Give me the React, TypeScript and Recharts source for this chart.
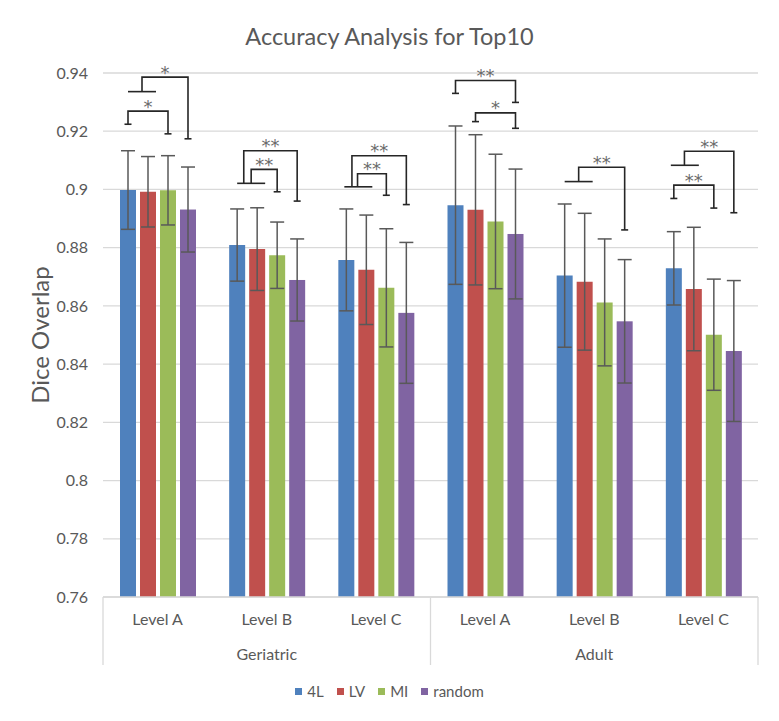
import React from 'react'
import {
  BarChart,
  Bar,
  XAxis,
  YAxis,
  CartesianGrid,
  ErrorBar,
  Legend,
} from 'recharts'

const groupNames = ['Geriatric', 'Adult']
const levelNames = ['Level A', 'Level B', 'Level C']
const seriesNames = ['4L', 'LV', 'MI', 'random']
const seriesColors = ['#4F81BD', '#C0504D', '#9BBB59', '#8064A2']

// mean dice overlap per category (Geriatric A/B/C, Adult A/B/C)
const fourL = [0.8998, 0.8809, 0.8758, 0.8946, 0.8704, 0.8729]
const lv = [0.8992, 0.8795, 0.8724, 0.893, 0.8683, 0.8658]
const mi = [0.8997, 0.8774, 0.8662, 0.889, 0.8612, 0.8501]
const random = [0.8931, 0.8689, 0.8576, 0.8847, 0.8547, 0.8445]

// standard deviation (symmetric error bars)
const err4L = [0.0135, 0.0124, 0.0175, 0.0272, 0.0246, 0.0126]
const errLV = [0.0121, 0.0142, 0.0188, 0.0258, 0.0235, 0.0212]
const errMI = [0.0119, 0.0114, 0.0203, 0.0231, 0.0218, 0.0191]
const errRandom = [0.0146, 0.0141, 0.0242, 0.0223, 0.0212, 0.0242]

const yTicks = [0.76, 0.78, 0.8, 0.82, 0.84, 0.86, 0.88, 0.9, 0.92, 0.94]

// significance brackets; from/to are bar slots inside a category (0 = 4L ... 3 = random)
const brackets = [
  { cat: 0, from: 0.7, to: 3, top: 0.9386, left: 0.9336, right: 0.9174, leftCap: false, label: '*' },
  { cat: 0, from: 0, to: 2, top: 0.9269, left: 0.9224, right: 0.9191, leftCap: true, label: '*' },
  { cat: 1, from: 0.33, to: 3, top: 0.9133, left: 0.9021, right: 0.896, leftCap: false, label: '**' },
  { cat: 1, from: 0.7, to: 2, top: 0.9069, left: 0.9021, right: 0.8992, leftCap: false, label: '**' },
  { cat: 2, from: 0.28, to: 3, top: 0.9116, left: 0.9009, right: 0.8948, leftCap: false, label: '**' },
  { cat: 2, from: 0.56, to: 2, top: 0.9054, left: 0.9009, right: 0.898, leftCap: false, label: '**' },
  { cat: 3, from: 0, to: 3, top: 0.9374, left: 0.933, right: 0.9299, leftCap: true, label: '**' },
  { cat: 3, from: 1, to: 3, top: 0.9263, left: 0.9233, right: 0.921, leftCap: true, label: '*' },
  { cat: 4, from: 0.7, to: 3, top: 0.9076, left: 0.9027, right: 0.8861, leftCap: false, label: '**' },
  { cat: 5, from: 0.53, to: 3, top: 0.9131, left: 0.9083, right: 0.892, leftCap: false, label: '**' },
  { cat: 5, from: 0, to: 2, top: 0.9015, left: 0.8969, right: 0.8936, leftCap: true, label: '**' },
]

// short horizontal bars joining 4L and LV
const crossbars = [
  { cat: 0, from: 0, to: 1.4, level: 0.9336 },
  { cat: 1, from: 0, to: 1.4, level: 0.9021 },
  { cat: 2, from: -0.1, to: 1.3, level: 0.9009 },
  { cat: 4, from: 0, to: 1.4, level: 0.9027 },
  { cat: 5, from: -0.15, to: 1.25, level: 0.9083 },
]

const data = groupNames.flatMap((g, gi) =>
  levelNames.map((lvl, li) => {
    const i = gi * levelNames.length + li
    return {
      name: g + ' ' + lvl,
      group: g,
      level: lvl,
      s4L: fourL[i],
      sLV: lv[i],
      sMI: mi[i],
      sRandom: random[i],
      e4L: err4L[i],
      eLV: errLV[i],
      eMI: errMI[i],
      eRandom: errRandom[i],
    }
  })
)

const W = 779
const H = 721
const MARGIN = { top: 73, right: 21, left: 0, bottom: 20 }
const Y_AXIS_W = 103
const PLOT_W = W - MARGIN.left - MARGIN.right - Y_AXIS_W
const BAR_GAP = 4
const Y_MIN = 0.76
const FONT = 'Lato, "Open Sans", sans-serif'
const TEXT = '#595959'
const LINE = '#d9d9d9'

const CategoryTick = (props: any) => {
  const { x, y, payload, index } = props
  const half = PLOT_W / data.length / 2
  const entry = data[index]
  const perGroup = levelNames.length
  const pos = index % perGroup
  return (
    <g>
      <text x={x} y={y + 28} textAnchor="middle" fill={TEXT} fontSize={16} fontFamily={FONT}>
        {entry ? entry.level : payload.value}
      </text>
      {pos === 1 && (
        <text x={x} y={y + 63} textAnchor="middle" fill={TEXT} fontSize={16} fontFamily={FONT}>
          {entry.group}
        </text>
      )}
      {pos === 0 && <line x1={x - half} x2={x - half} y1={y} y2={y + 68} stroke={LINE} strokeWidth={1.3} />}
      {index === data.length - 1 && (
        <line x1={x + half} x2={x + half} y1={y} y2={y + 68} stroke={LINE} strokeWidth={1.3} />
      )}
    </g>
  )
}

// last bar of each category also carries the significance annotations
const RandomBar = (props: any) => {
  const { x, y, width, height, fill, index, payload } = props
  const base = y + height
  const ppu = height / (payload.sRandom - Y_MIN)
  const yOf = (v: number) => base - (v - Y_MIN) * ppu
  const xOf = (s: number) => x + width / 2 - (3 - s) * (width + BAR_GAP)
  const stroke = '#262626'
  const cap = 3.5
  return (
    <g>
      <rect x={x} y={y} width={width} height={height} fill={fill} />
      {crossbars
        .filter((c) => c.cat === index)
        .map((c, k) => (
          <line key={'c' + k} x1={xOf(c.from)} x2={xOf(c.to)} y1={yOf(c.level)} y2={yOf(c.level)} stroke={stroke} strokeWidth={1.6} />
        ))}
      {brackets
        .filter((b) => b.cat === index)
        .map((b, k) => {
          const x1 = xOf(b.from)
          const x2 = xOf(b.to)
          const yt = yOf(b.top)
          return (
            <g key={'b' + k}>
              <path
                d={`M${x1},${yOf(b.left)}V${yt}H${x2}V${yOf(b.right)}`}
                fill="none"
                stroke={stroke}
                strokeWidth={1.6}
              />
              {b.leftCap && <line x1={x1 - cap} x2={x1 + cap} y1={yOf(b.left)} y2={yOf(b.left)} stroke={stroke} strokeWidth={1.6} />}
              <line x1={x2 - cap} x2={x2 + cap} y1={yOf(b.right)} y2={yOf(b.right)} stroke={stroke} strokeWidth={1.6} />
              <text
                x={(x1 + x2) / 2}
                y={yt + 1.5}
                textAnchor="middle"
                fill="#6b6b6b"
                fontSize={18}
                fontFamily='"DejaVu Sans", sans-serif'
              >
                {b.label}
              </text>
            </g>
          )
        })}
    </g>
  )
}

const LegendContent = () => (
  <div
    style={{
      display: 'flex',
      justifyContent: 'center',
      alignItems: 'center',
      height: 20,
      fontFamily: FONT,
      fontSize: 15,
      color: TEXT,
    }}
  >
    {seriesNames.map((s, i) => (
      <span key={s} style={{ display: 'flex', alignItems: 'center', marginLeft: i === 0 ? 0 : 13 }}>
        <span style={{ width: 7, height: 7, background: seriesColors[i], marginRight: 5 }} />
        {s}
      </span>
    ))}
  </div>
)

const keys = ['s4L', 'sLV', 'sMI', 'sRandom']
const errKeys = ['e4L', 'eLV', 'eMI', 'eRandom']

export default function App() {
  return (
    <div style={{ margin: -8, width: W, height: H, position: 'relative', background: '#fff' }}>
      <div
        style={{
          position: 'absolute',
          top: 21,
          left: 0,
          width: W,
          textAlign: 'center',
          fontFamily: FONT,
          fontSize: 23.5,
          color: TEXT,
          lineHeight: '30px',
        }}
      >
        Accuracy Analysis for Top10
      </div>
      <BarChart width={W} height={H} data={data} margin={MARGIN} barGap={BAR_GAP} barSize={16}>
        <CartesianGrid vertical={false} stroke={LINE} strokeWidth={1.3} />
        <XAxis
          dataKey="name"
          interval={0}
          tickLine={false}
          tickSize={0}
          tickMargin={0}
          axisLine={{ stroke: LINE, strokeWidth: 1.3 }}
          height={84}
          tick={<CategoryTick />}
        />
        <YAxis
          domain={[0.76, 0.94]}
          ticks={yTicks}
          width={Y_AXIS_W}
          axisLine={false}
          tickLine={false}
          tickSize={0}
          tickMargin={15}
          tickFormatter={(v: number) => String(v)}
          tick={{ fill: TEXT, fontSize: 16, fontFamily: FONT }}
          label={() => (
            <text
              x={39}
              y={335}
              transform="rotate(-90 39 335)"
              textAnchor="middle"
              dominantBaseline="central"
              fill={TEXT}
              fontSize={24}
              fontFamily={FONT}
            >
              Dice Overlap
            </text>
          )}
        />
        <Legend verticalAlign="bottom" content={<LegendContent />} wrapperStyle={{ left: 0, width: W }} />
        {keys.map((k, i) => (
          <Bar
            key={k}
            dataKey={k}
            name={seriesNames[i]}
            fill={seriesColors[i]}
            isAnimationActive={false}
            shape={k === 'sRandom' ? <RandomBar /> : undefined}
          >
            <ErrorBar dataKey={errKeys[i]} width={7} strokeWidth={1.5} stroke="#595959" direction="y" />
          </Bar>
        ))}
      </BarChart>
      <div
        style={{
          position: 'absolute',
          inset: 0,
          border: '1px solid #d9d9d9',
          pointerEvents: 'none',
        }}
      />
    </div>
  )
}
